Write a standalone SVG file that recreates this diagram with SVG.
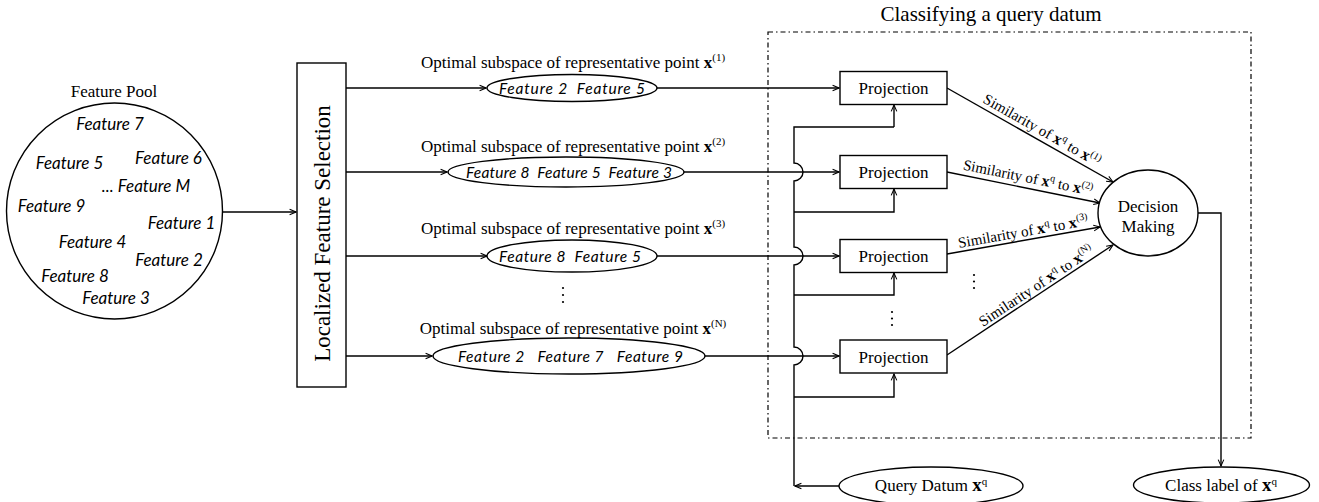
<svg xmlns="http://www.w3.org/2000/svg" width="1319" height="502" viewBox="0 0 1319 502">
<style>
.s{fill:none;stroke:#000;stroke-width:1.4}
.n{fill:#fff;stroke:#000;stroke-width:1.4}
.t{font-family:"Liberation Serif","Times New Roman",serif;fill:#000}
.h{font-family:Lato,"Open Sans",sans-serif;font-style:italic;font-size:17px;fill:#000;white-space:pre}
.e{font-size:15.5px}
.b{font-weight:bold}
.a{marker-end:url(#arr)}
</style>
<defs>
<marker id="arr" viewBox="0 0 10 10" refX="9" refY="5" markerWidth="8" markerHeight="8" markerUnits="userSpaceOnUse" orient="auto">
<path d="M1,1.5 L9,5 L1,8.5" fill="none" stroke="#000" stroke-width="1.3"/>
</marker>
</defs>
<rect width="1319" height="502" fill="#fff"/>

<g id="query-box">
<rect x="768" y="32" width="483" height="406" fill="none" stroke="#000" stroke-width="1.2" stroke-dasharray="5 3 1.5 3"/>
<text class="t" x="991" y="21" font-size="21" text-anchor="middle">Classifying a query datum</text>
</g>

<g id="connectors">
<path class="s a" d="M222,212 H296"/>
<path class="s a" d="M346,88 H486"/>
<path class="s a" d="M346,172 H447"/>
<path class="s a" d="M346,256 H487"/>
<path class="s a" d="M346,356 H432"/>
<path class="s a" d="M657,88 H839"/>
<path class="s a" d="M684,172 H839"/>
<path class="s a" d="M657,256 H839"/>
<path class="s a" d="M705,356 H839"/>
<path class="s" d="M894,127 H794 V163 A9,9 0 0 1 794,181 V247 A9,9 0 0 1 794,265 V347 A9,9 0 0 1 794,365 V486"/>
<path class="s a" d="M894,127 V105"/>
<path class="s a" d="M794,212 H894 V189"/>
<path class="s a" d="M794,295 H894 V273"/>
<path class="s a" d="M794,397 H894 V374"/>
<path class="s a" d="M839,486 H795"/>
<path class="s a" d="M947,88 L1113,182"/>
<path class="s a" d="M947,172 L1100,203"/>
<path class="s a" d="M947,254 L1100,227"/>
<path class="s a" d="M947,355 L1113,245"/>
<path class="s a" d="M1198,213 H1221 V466"/>
<text class="t" font-size="15" text-anchor="middle" transform="translate(1039.5,134.5) rotate(29.5)">Similarity of <tspan class="b" font-size="16">x</tspan><tspan font-size="10" dy="-6">q</tspan><tspan dy="6"> to </tspan><tspan class="b" font-size="16">x</tspan><tspan font-size="10" dy="-6">(1)</tspan></text>
<text class="t" font-size="15" text-anchor="middle" transform="translate(1027,182.5) rotate(11.45)">Similarity of <tspan class="b" font-size="16">x</tspan><tspan font-size="10" dy="-6">q</tspan><tspan dy="6"> to </tspan><tspan class="b" font-size="16">x</tspan><tspan font-size="10" dy="-6">(2)</tspan></text>
<text class="t" font-size="15" text-anchor="middle" transform="translate(1024,236.5) rotate(-10)">Similarity of <tspan class="b" font-size="16">x</tspan><tspan font-size="10" dy="-6">q</tspan><tspan dy="6"> to </tspan><tspan class="b" font-size="16">x</tspan><tspan font-size="10" dy="-6">(3)</tspan></text>
<text class="t" font-size="15" text-anchor="middle" transform="translate(1039,290) rotate(-33.5)">Similarity of <tspan class="b" font-size="16">x</tspan><tspan font-size="10" dy="-6">q</tspan><tspan dy="6"> to </tspan><tspan class="b" font-size="16">x</tspan><tspan font-size="10" dy="-6">(N)</tspan></text>
</g>

<g id="feature-pool">
<text class="t" x="114" y="97" font-size="17" text-anchor="middle">Feature Pool</text>
<circle class="n" cx="114.5" cy="211" r="108"/>
<g class="h" text-anchor="middle">
<text x="110" y="130">Feature 7</text>
<text x="69.5" y="169">Feature 5</text>
<text x="168.5" y="164">Feature 6</text>
<text x="146" y="192">...  Feature M</text>
<text x="51.5" y="212">Feature 9</text>
<text x="181.5" y="229">Feature 1</text>
<text x="92.5" y="248">Feature 4</text>
<text x="169" y="266">Feature 2</text>
<text x="75" y="282">Feature 8</text>
<text x="116" y="304">Feature 3</text>
</g>
</g>

<g id="lfs">
<rect class="n" x="297" y="63" width="49" height="324"/>
<text class="t" font-size="23" text-anchor="middle" transform="translate(330,233.5) rotate(-90)">Localized Feature Selection</text>
</g>

<g id="subspace-1">
<text class="t" x="573" y="68" font-size="17" text-anchor="middle">Optimal subspace of representative point <tspan class="b">x</tspan><tspan font-size="11" dy="-7">(1)</tspan></text>
<ellipse class="n" cx="572" cy="88" rx="85" ry="13.5"/>
<text class="h e" x="499" y="93.5" textLength="146" lengthAdjust="spacing">Feature 2  Feature 5</text>
</g>
<g id="subspace-2">
<text class="t" x="573" y="152" font-size="17" text-anchor="middle">Optimal subspace of representative point <tspan class="b">x</tspan><tspan font-size="11" dy="-7">(2)</tspan></text>
<ellipse class="n" cx="566" cy="172" rx="118" ry="15"/>
<text class="h e" x="466" y="177.5" textLength="206" lengthAdjust="spacing">Feature 8  Feature 5  Feature 3</text>
</g>
<g id="subspace-3">
<text class="t" x="573" y="234" font-size="17" text-anchor="middle">Optimal subspace of representative point <tspan class="b">x</tspan><tspan font-size="11" dy="-7">(3)</tspan></text>
<ellipse class="n" cx="572" cy="256" rx="85" ry="16"/>
<text class="h e" x="499" y="261.5" textLength="142" lengthAdjust="spacing">Feature 8  Feature 5</text>
</g>
<g id="dots-subspace">
<circle cx="563" cy="288" r="1.1"/><circle cx="563" cy="295" r="1.1"/><circle cx="563" cy="302" r="1.1"/>
</g>
<g id="subspace-N">
<text class="t" x="573" y="334" font-size="17" text-anchor="middle">Optimal subspace of representative point <tspan class="b">x</tspan><tspan font-size="11" dy="-7">(N)</tspan></text>
<ellipse class="n" cx="569" cy="356" rx="136" ry="18"/>
<text class="h e" x="458" y="361.5" textLength="225" lengthAdjust="spacing">Feature 2   Feature 7   Feature 9</text>
</g>

<g id="projection-1">
<rect class="n" x="840" y="71.5" width="107" height="33"/>
<text class="t" x="893.5" y="94" font-size="17" text-anchor="middle">Projection</text>
</g>
<g id="projection-2">
<rect class="n" x="840" y="155.5" width="107" height="33"/>
<text class="t" x="893.5" y="178" font-size="17" text-anchor="middle">Projection</text>
</g>
<g id="projection-3">
<rect class="n" x="840" y="239.5" width="107" height="33"/>
<text class="t" x="893.5" y="262" font-size="17" text-anchor="middle">Projection</text>
</g>
<g id="projection-N">
<rect class="n" x="840" y="340" width="107" height="33"/>
<text class="t" x="893.5" y="362.5" font-size="17" text-anchor="middle">Projection</text>
</g>
<g id="dots-projection">
<circle cx="892" cy="312" r="1.1"/><circle cx="892" cy="318.5" r="1.1"/><circle cx="892" cy="325" r="1.1"/>
<circle cx="974" cy="275" r="1.1"/><circle cx="974" cy="281.5" r="1.1"/><circle cx="974" cy="288" r="1.1"/>
</g>

<g id="decision">
<ellipse class="n" cx="1148" cy="213" rx="50" ry="43"/>
<text class="t" x="1148" y="212" font-size="17" text-anchor="middle">Decision</text>
<text class="t" x="1148" y="232" font-size="17" text-anchor="middle">Making</text>
</g>

<g id="query-datum">
<ellipse class="n" cx="931" cy="486" rx="92" ry="19"/>
<text class="t" x="931" y="491" font-size="17" text-anchor="middle">Query Datum <tspan class="b" font-size="19">x</tspan><tspan font-size="11" dy="-6">q</tspan></text>
</g>

<g id="class-label">
<ellipse class="n" cx="1221.5" cy="485" rx="88" ry="18"/>
<text class="t" x="1221" y="491" font-size="17" text-anchor="middle">Class label of <tspan class="b" font-size="19">x</tspan><tspan font-size="11" dy="-6">q</tspan></text>
</g>
</svg>
